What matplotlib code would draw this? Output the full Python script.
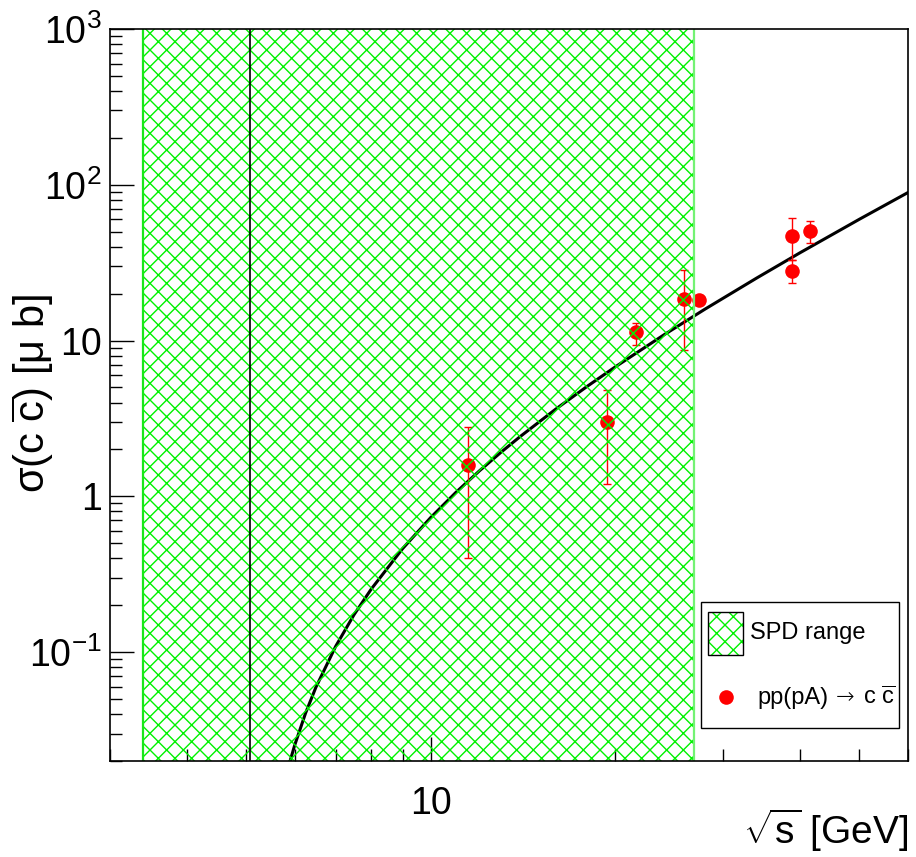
import matplotlib
matplotlib.use("Agg")
import matplotlib.pyplot as plt
from matplotlib.patches import Rectangle
from matplotlib.ticker import FixedLocator, FixedFormatter, NullFormatter, LogLocator

plt.rcParams['font.family'] = ['Liberation Sans', 'DejaVu Sans']
plt.rcParams['mathtext.fontset'] = 'custom'
plt.rcParams['mathtext.rm'] = 'Liberation Sans'
plt.rcParams['mathtext.it'] = 'Liberation Sans:italic'
plt.rcParams['mathtext.bf'] = 'Liberation Sans:bold'
plt.rcParams['hatch.linewidth'] = 1.0

# ---- data ----
spd_range = [3.39, 26.9]          # SPD sqrt(s) range, GeV
threshold_x = 5.07                # vertical line position, GeV

pts_x = [11.5, 19.4, 21.6, 25.9, 27.4, 38.8, 38.8, 41.6]
pts_y = [1.6, 3.0, 11.3, 18.5, 18.1, 47.1, 28.0, 50.6]
err_lo = [1.2, 1.8, 2.0, 9.8, 0.0, 14.0, 4.7, 8.0]
err_hi = [1.2, 1.8, 1.7, 9.7, 0.0, 14.0, 4.7, 8.0]

curve_x = [5.85, 6.0, 6.25, 6.5, 7.0, 7.5, 8.0, 9.0, 10, 11, 12, 13, 14, 16, 18, 20,
           24, 28, 34, 40, 50, 60]
curve_y = [0.0179, 0.0252, 0.0405, 0.0596, 0.109, 0.174, 0.254, 0.462, 0.731, 1.063,
           1.455, 1.909, 2.424, 3.636, 5.088, 6.78, 10.88, 15.91, 25.2, 36.6, 60.1, 89.2]

y_ticks = [0.1, 1, 10, 100, 1000]
y_ticklabels = [r'$\mathregular{10^{-1}}$', '1', '10', r'$\mathregular{10^{2}}$', r'$\mathregular{10^{3}}$']
x_ticks = [10]
x_ticklabels = ['10']

W, H = 916, 857
fig = plt.figure(figsize=(W / 100, H / 100), dpi=100)
ax = fig.add_axes([110 / W, (H - 761) / H, (908 - 110) / W, (761 - 29) / H])
ax.set_xscale('log')
ax.set_yscale('log')
ax.set_xlim(3.0, 60.0)
ax.set_ylim(0.02, 1000)

# curve
ax.plot(curve_x, curve_y, color='black', lw=2.2, zorder=3)

# data points
ax.errorbar(pts_x, pts_y, yerr=[err_lo, err_hi], fmt='none', ecolor='red',
            elinewidth=1.0, capsize=3.0, capthick=1.0, zorder=3)
ax.plot(pts_x, pts_y, 'o', color='red', markersize=10.5, markeredgewidth=0, zorder=3.5)

# SPD band (hatched, on top)
green = (0.0, 0.95, 0.0)
ax.axvspan(spd_range[0], spd_range[1], facecolor='none', edgecolor=green,
           hatch='xx', linewidth=0, zorder=4)
for xe, c in [(spd_range[0], (0.1, 0.9, 0.1)), (spd_range[1], (0.45, 0.95, 0.45))]:
    ax.axvline(xe, color=c, lw=1.6, zorder=4.2)

ax.axvline(threshold_x, color='black', lw=1.2, zorder=5)

# axes styling
ax.yaxis.set_major_locator(FixedLocator(y_ticks))
ax.yaxis.set_major_formatter(FixedFormatter(y_ticklabels))
ax.yaxis.set_minor_locator(LogLocator(base=10, subs=range(2, 10)))
ax.yaxis.set_minor_formatter(NullFormatter())
ax.xaxis.set_major_locator(FixedLocator(x_ticks))
ax.xaxis.set_major_formatter(FixedFormatter(x_ticklabels))
ax.xaxis.set_minor_locator(LogLocator(base=10, subs=range(2, 10)))
ax.xaxis.set_minor_formatter(NullFormatter())

ax.tick_params(which='both', direction='in', top=False, right=False, width=1.0, color='black')
ax.tick_params(which='major', length=17)
ax.tick_params(which='minor', length=8.5)
ax.tick_params(axis='y', which='major', labelsize=27, pad=6)
ax.tick_params(axis='x', which='major', labelsize=27, pad=18)
for s in ax.spines.values():
    s.set_linewidth(1.2)
    s.set_zorder(6)

cbar = r'$\overline{\mathregular{c}}$'
fig.text(33 / W, 1 - 393 / H, 'σ(c ' + cbar + ') [μ b]', rotation=90,
         ha='center', va='center', fontsize=30)
fig.text(908 / W, 1 - 830 / H, r'$\sqrt{\mathregular{s}}$ [GeV]', ha='right', va='center',
         fontsize=28)

# legend (manual)
def ax_x(px):
    return (px - 110) / 798.0

def ax_y(py):
    return (761 - py) / 732.0

ax.add_patch(Rectangle((ax_x(701), ax_y(728)), ax_x(899) - ax_x(701), ax_y(602) - ax_y(728),
                       transform=ax.transAxes, facecolor='white', edgecolor='black', lw=1.0,
                       zorder=7, clip_on=False))
ax.add_patch(Rectangle((ax_x(708), ax_y(655)), ax_x(743) - ax_x(708), ax_y(612) - ax_y(655),
                       transform=ax.transAxes, facecolor='white', edgecolor=green,
                       hatch='xx', lw=0, zorder=8, clip_on=False))
ax.add_patch(Rectangle((ax_x(708), ax_y(655)), ax_x(743) - ax_x(708), ax_y(612) - ax_y(655),
                       transform=ax.transAxes, facecolor='none', edgecolor='black',
                       lw=1.0, zorder=9, clip_on=False))
ax.text(ax_x(750), ax_y(633), 'SPD range', transform=ax.transAxes, fontsize=17,
        ha='left', va='center', zorder=9)
ax.plot([ax_x(726)], [ax_y(697)], 'o', color='red', markersize=10.5, markeredgewidth=0,
        transform=ax.transAxes, zorder=9, clip_on=False)
ax.text(ax_x(757), ax_y(698), 'pp(pA)', transform=ax.transAxes, fontsize=17,
        ha='left', va='center', zorder=9)
ax.text(ax_x(845), ax_y(697), '→', transform=ax.transAxes, fontsize=16,
        family=['DejaVu Sans'], fontweight='light', ha='center', va='center', zorder=9)
ax.text(ax_x(863), ax_y(698), 'c ' + cbar, transform=ax.transAxes, fontsize=17,
        ha='left', va='center', zorder=9)

fig.savefig('out.png', dpi=100)
